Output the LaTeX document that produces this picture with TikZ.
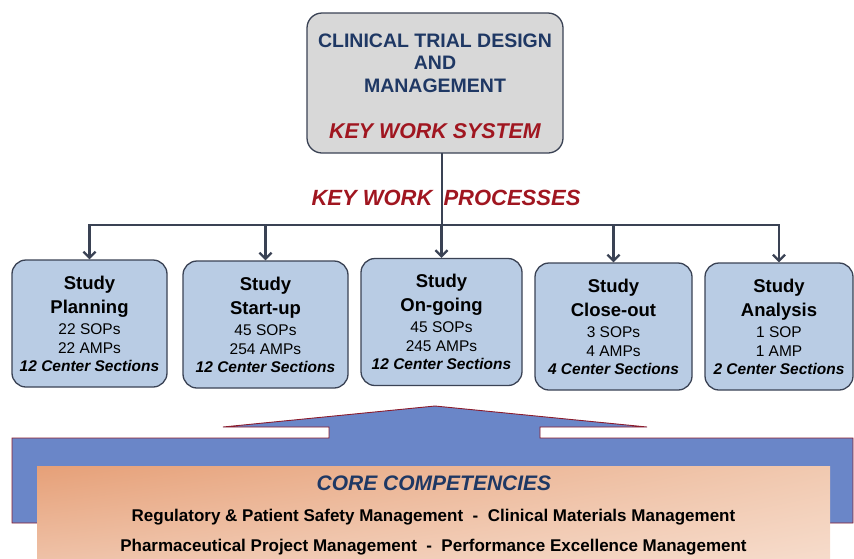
\documentclass[tikz,border=0pt]{standalone}
\usepackage{fontspec}
\setmainfont{Liberation Sans}
\usetikzlibrary{arrows.meta,shadings}

\definecolor{navy}{HTML}{1F3864}
\definecolor{keyred}{HTML}{A01620}
\definecolor{sysgrey}{HTML}{D8D8D8}
\definecolor{stageblue}{HTML}{B9CCE4}
\definecolor{slate}{HTML}{3A4254}
\definecolor{baseblue}{HTML}{6A86C8}
\definecolor{rimred}{HTML}{8C1C2C}
\definecolor{peachA}{HTML}{E6A078}
\definecolor{peachB}{HTML}{F1C9B0}
\definecolor{peachC}{HTML}{F0C7AF}
\definecolor{peachD}{HTML}{F7DFD0}

\tikzset{
  system/.style={draw=slate, fill=sysgrey, rounded corners=15pt, line width=1.3pt,
    minimum width=256pt, minimum height=140pt, align=center, text=navy,
    font=\fontsize{19.5}{22.5}\selectfont\bfseries},
  stage/.style={draw=slate, fill=stageblue, rounded corners=14pt, line width=1.3pt,
    minimum height=127pt, align=center, font=\fontsize{15.5}{19}\selectfont},
  link/.style={draw=slate, line width=2.3pt, line cap=rect},
  drop/.style={draw=slate, line width=2.3pt, -{Straight Barb[length=6pt,width=12pt]}},
  keyword/.style={text=keyred, font=\fontsize{22}{24}\selectfont\bfseries\itshape}
}

\newcommand{\stagetext}[4]{{\fontsize{18.5}{22}\selectfont\bfseries Study}\\[5pt]%
  {\fontsize{18.5}{22}\selectfont\bfseries #1}\\[2pt]#2\\#3\\[-1pt]%
  {\bfseries\itshape #4}}

\begin{document}
\begin{tikzpicture}[x=1pt,y=-1pt]

	\useasboundingbox (0,0) rectangle (854,558);
	\clip (0,0) rectangle (854,558);

	% key work system
	\node[system] (kws) at (435,83) {\rule{0pt}{20pt}CLINICAL TRIAL DESIGN\\AND\\MANAGEMENT\\[23.5pt]%
		{\color{keyred}\itshape\fontsize{21.4}{22.5}\selectfont KEY WORK SYSTEM}};

	\node[keyword] (kwp) at (446,198) {KEY WORK\hspace{11pt}PROCESSES};

	% key work processes
	\node[stage, minimum width=155pt] (plan) at (89.5,323.5) {\stagetext{Planning}{22 SOPs}{22 AMPs}{12 Center Sections}};
	\node[stage, minimum width=165pt] (start) at (265.5,324.5) {\stagetext{Start-up}{45 SOPs}{254 AMPs}{12 Center Sections}};
	\node[stage, minimum width=161pt] (going) at (441.5,322) {\stagetext{On-going}{45 SOPs}{245 AMPs}{12 Center Sections}};
	\node[stage, minimum width=157pt] (close) at (613.5,326.5) {\stagetext{Close-out}{3 SOPs}{4 AMPs}{4 Center Sections}};
	\node[stage, minimum width=148pt] (anal) at (779,326.5) {\stagetext{Analysis}{1 SOP}{1 AMP}{2 Center Sections}};

	\coordinate (hub) at (442,225);
	\draw[link] (kws.south -| hub) -- (hub);
	\draw[link] (plan.north |- hub) -- (anal.north |- hub);
	\foreach \s in {plan,start,going,close,anal}
		\draw[drop] (\s.north |- hub) -- (\s.north);

	% core competencies base
	\draw[fill=baseblue, draw=rimred, line width=0.9pt]
		(12,523) -- (12,438) -- (329,438) -- (329,427) -- (223,427) -- (435,406)
		-- (647,427) -- (540,427) -- (540,438) -- (853,438) -- (853,523) -- cycle;
	\shade[upper left=peachA, upper right=peachB, lower left=peachC, lower right=peachD]
		(37,466) rectangle (830,575);

	\node[text=navy, font=\fontsize{21}{24}\selectfont\bfseries\itshape] (core) at (434,483) {CORE COMPETENCIES};
	\node[align=center, font=\fontsize{17}{30}\selectfont\bfseries] (comp) at (433.5,532)
		{Regulatory \& Patient Safety Management \ - \ Clinical Materials Management\\
		 Pharmaceutical Project Management \ - \ Performance Excellence Management};

\end{tikzpicture}
\end{document}
